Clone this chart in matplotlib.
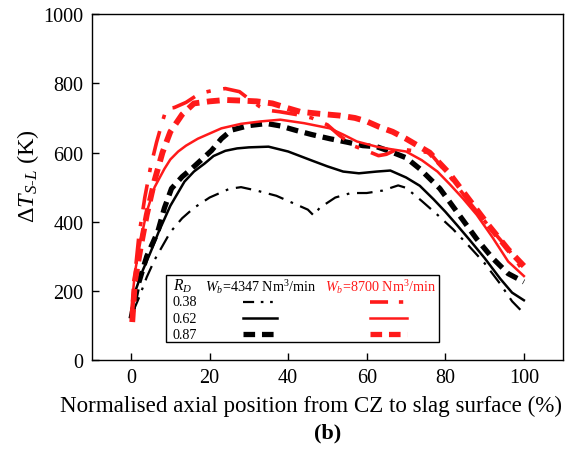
import matplotlib
matplotlib.use("Agg")
import matplotlib.pyplot as plt
from matplotlib.patches import Rectangle

plt.rcParams['font.family'] = ['Liberation Serif', 'DejaVu Serif']
plt.rcParams['mathtext.fontset'] = 'custom'
plt.rcParams['mathtext.rm'] = 'Liberation Serif'
plt.rcParams['mathtext.it'] = 'Liberation Serif:italic'
plt.rcParams['mathtext.bf'] = 'Liberation Serif:bold'

# ---- data ----
x_b038 = [0.5, 2, 4, 6, 8, 10, 13, 16, 20, 25, 28, 32, 37, 42, 45, 46.5, 48, 52, 56, 60, 64, 68, 70, 74, 78, 82, 86, 90, 94, 97, 100]
y_b038 = [140, 180, 240, 290, 330, 370, 410, 440, 470, 495, 500, 490, 475, 450, 435, 418, 440, 470, 483, 483, 490, 505, 498, 460, 420, 378, 330, 280, 220, 170, 135]

x_b062 = [0, 1, 3, 5, 7, 10, 13.6, 16, 18.7, 21, 24, 27, 30, 35, 40, 46, 50, 54, 58, 62.5, 66, 70, 73.5, 77, 80, 83, 86, 90, 94, 97, 100]
y_b062 = [130, 197, 260, 313, 370, 446, 516, 545, 568, 590, 605, 612, 615, 617, 603, 577, 560, 545, 540, 545, 548, 528, 504, 465, 429, 390, 350, 295, 235, 195, 173]

x_b087 = [0, 1.7, 4, 6.8, 8.5, 10.3, 13, 15.4, 18, 20.5, 23, 25.6, 30, 34.5, 38, 42, 46, 50.6, 55, 59, 62.5, 66, 70, 73.5, 78.6, 83.7, 88, 92, 96, 100]
y_b087 = [120, 214, 300, 371, 440, 496, 530, 553, 580, 606, 640, 665, 678, 684, 677, 664, 652, 640, 630, 620, 617, 603, 585, 553, 496, 417, 350, 295, 250, 226]

x_r062 = [0, 1, 2.5, 4, 6, 8.5, 10, 12, 14, 17, 20, 23, 28, 33, 38, 44, 50.6, 54, 57.5, 62.5, 66, 70, 74, 78, 81, 84.5, 88, 92, 96, 100]
y_r062 = [140, 255, 350, 429, 500, 553, 580, 603, 620, 640, 655, 670, 683, 690, 695, 685, 670, 652, 632, 617, 610, 603, 578, 545, 510, 467, 420, 355, 285, 243]

x_r087 = [0.3, 1, 2.5, 4, 6, 8, 10, 13, 16, 20, 24, 28.4, 32, 36, 40, 43, 48, 53, 57, 60, 63, 66.6, 70, 73, 76, 81, 86, 91, 96, 100]
y_r087 = [110, 230, 330, 420, 520, 600, 660, 710, 742, 748, 752, 750, 748, 742, 728, 718, 712, 707, 700, 690, 675, 660, 640, 620, 600, 540, 465, 390, 320, 272]

x_r038 = [0.3, 1, 2, 3.5, 5, 6.5, 8, 9, 11, 14, 17.5, 21, 24, 27.6, 30, 32.7, 35, 37.8, 42, 46, 50, 53, 56.5, 60, 63, 65, 68, 72, 76, 81, 86, 91, 96, 100]
y_r038 = [120, 250, 360, 470, 560, 630, 690, 727, 730, 745, 771, 780, 785, 776, 755, 733, 722, 718, 710, 700, 680, 650, 620, 605, 591, 595, 611, 605, 600, 533, 458, 388, 321, 255]

rd_labels = ['0.38', '0.62', '0.87']
wb_labels = ['$\\mathit{W}_{\\mathit{b}}$=4347 Nm$^3$/min', '$\\mathit{W}_{\\mathit{b}}$=8700 Nm$^3$/min']

# ---- styles ----
dashdot = (0, (7, 3.5, 1.2, 3.5))
dashed = (0, (2.2, 1.3))
styles = {
    '0.38': dict(ls=dashdot, lw=1.6),
    '0.62': dict(ls='-', lw=1.8),
    '0.87': dict(ls=dashed, lw=3.8),
}
red = '#ff1a1a'

fig = plt.figure(figsize=(5.7, 4.6), dpi=100)
ax = fig.add_axes([0.161, 0.215, 0.827, 0.752])

series = [
    (x_b038, y_b038, 'k', '0.38'),
    (x_b062, y_b062, 'k', '0.62'),
    (x_b087, y_b087, 'k', '0.87'),
    (x_r062, y_r062, red, '0.62'),
    (x_r087, y_r087, red, '0.87'),
    (x_r038, y_r038, red, '0.38'),
]
for xs, ys, c, key in series:
    st = dict(styles[key])
    if c == red and key == '0.38':
        st['lw'] = 2.6
    if c == red and key == '0.87':
        st['lw'] = 4.2
    ax.plot(xs, ys, color=c, **st)

ax.set_xlim(-10, 110)
ax.set_ylim(0, 1000)
ax.set_xticks([0, 20, 40, 60, 80, 100])
ax.set_yticks([0, 200, 400, 600, 800, 1000])
ax.tick_params(direction='in', length=5, width=1, labelsize=14.5)
ax.tick_params(axis='x', pad=6)
ax.tick_params(axis='y', pad=6)
for s in ax.spines.values():
    s.set_linewidth(1.0)

ax.set_ylabel('$\\mathit{\\Delta T}_{\\mathit{S\\text{-}L}}$ (K)', fontsize=17.5, va='center', ha='center')
ax.yaxis.set_label_coords(-0.136, 0.535)
ax.set_xlabel('Normalised axial position from CZ to slag surface (%)', fontsize=16.6, va='center', ha='center')
ax.xaxis.set_label_coords(0.465, -0.13)
fig.text(0.575, 0.0587, '(b)', ha='center', va='center', fontsize=16, fontweight='bold')

# ---- custom table legend ----
tr = ax.transAxes
ax.add_patch(Rectangle((0.157, 0.052), 0.58, 0.194, transform=tr, fill=False,
                       edgecolor='k', lw=1.0, zorder=5))
fs = 10.2
ax.text(0.192, 0.215, '$\\mathit{R}_{\\mathit{D}}$', transform=tr, ha='center', va='center', fontsize=fs + 1)
ax.text(0.240, 0.215, wb_labels[0], transform=tr, ha='left', va='center', fontsize=fs, color='k')
ax.text(0.495, 0.215, wb_labels[1], transform=tr, ha='left', va='center', fontsize=fs, color=red)
row_y = [0.168, 0.121, 0.075]
leg_dd = (0, (5, 3, 1.2, 3, 1.2, 3))
for lab, yy in zip(rd_labels, row_y):
    ax.text(0.172, yy, lab, transform=tr, ha='left', va='center', fontsize=fs)
    st = dict(styles[lab])
    if lab == '0.38':
        st['ls'] = leg_dd
    ax.plot([0.320, 0.392], [yy, yy], transform=tr, color='k', **st)
    st2 = dict(st)
    if lab == '0.38':
        st2['lw'] = 2.6
    ax.plot([0.590, 0.668], [yy, yy], transform=tr, color=red, **st2)

fig.savefig('out.png', dpi=100)
